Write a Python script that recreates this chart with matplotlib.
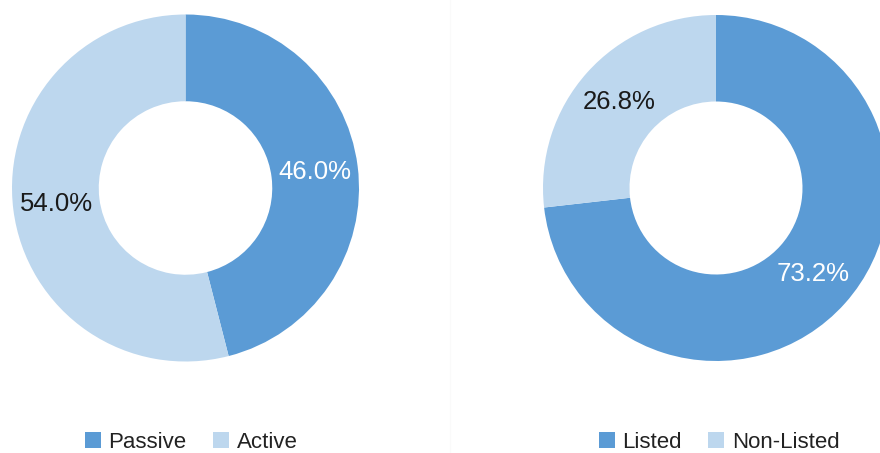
import matplotlib.pyplot as plt
from matplotlib.patches import Patch
from matplotlib.lines import Line2D

plt.rcParams['font.family'] = ['Liberation Sans', 'DejaVu Sans']

# fund style split and listing split
style_labels = ['Passive', 'Active']
style_values = [46.0, 54.0]
listing_labels = ['Listed', 'Non-Listed']
listing_values = [73.2, 26.8]

dark_blue = '#5B9BD5'
light_blue = '#BDD7EE'
colours = [dark_blue, light_blue]
text_colours = ['white', '#1a1a1a']

W, H = 880, 453
fig = plt.figure(figsize=(W / 100, H / 100), dpi=100)
fig.patch.set_facecolor('white')


def donut(cx, cy, r, values):
    ax = fig.add_axes([(cx - r) / W, (H - cy - r) / H, 2 * r / W, 2 * r / H])
    wedges, _, autotexts = ax.pie(values, colors=colours, startangle=90,
                                  counterclock=False, radius=1,
                                  autopct='%.1f%%', pctdistance=0.75,
                                  wedgeprops=dict(width=0.5, linewidth=0))
    for t, c in zip(autotexts, text_colours):
        t.set_color(c)
        t.set_fontsize(18.5)
    ax.set_xlim(-1, 1)
    ax.set_ylim(-1, 1)
    ax.set_aspect('equal')
    ax.axis('off')
    return ax


donut(185.5, 188, 173.5, style_values)
donut(716, 188, 173, listing_values)

# faint divider between the two panels
fig.add_artist(Line2D([450 / W, 450 / W], [0, 1], color='#fafafa', lw=1))


def legend(labels, cx):
    handles = [Patch(facecolor=c, edgecolor='none') for c in colours]
    fig.legend(handles, labels, loc='center', bbox_to_anchor=(cx / W, 11 / H),
               ncol=2, frameon=False, fontsize=16, handlelength=0.72,
               handleheight=0.72, handletextpad=0.35, columnspacing=1.18,
               labelcolor='#222222', borderpad=0.1)


legend(style_labels, 191)
legend(listing_labels, 719)

fig.savefig('out.png', dpi=100, facecolor='white')
